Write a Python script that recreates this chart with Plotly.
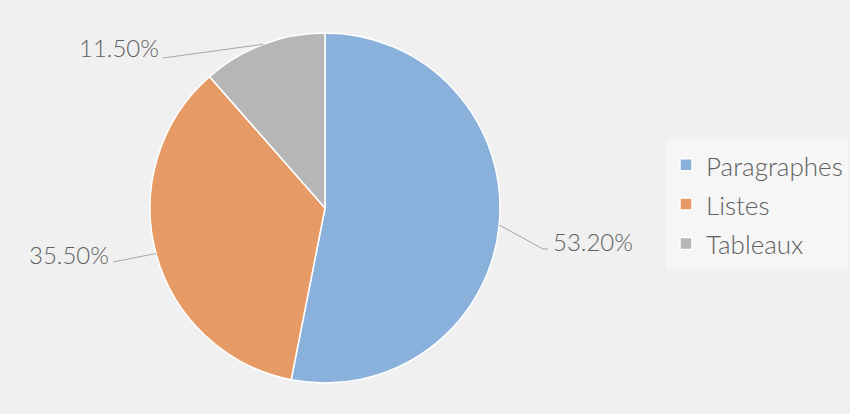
import numpy as np
import plotly.graph_objects as go

# ---- data ----
categories = ["Paragraphes", "Listes", "Tableaux"]
values = [53.2, 35.5, 11.5]
value_labels = ["53.20%", "35.50%", "11.50%"]
colors = ["#8ab0dc", "#e69b66", "#b6b6b6"]

W, H = 850, 414
cx, cy, R = 325, 208, 175  # pie geometry in px

def px(x):
    return x / W

def py(y):
    return 1 - y / H

legend_labels = ['<span style="font-size:26px">%s</span>' % c for c in categories]

fig = go.Figure(go.Pie(
    labels=legend_labels,
    values=values,
    sort=False,
    direction="clockwise",
    rotation=0,
    textinfo="none",
    hoverinfo="label+percent",
    marker=dict(colors=colors, line=dict(color="white", width=1.5)),
    domain=dict(x=[px(cx - R), px(cx + R)], y=[py(cy + R), py(cy - R)]),
))

label_layout = {
    "53.20%": dict(tx=551, ty=241, anchor="left", elbow=(543, 249), end=(548, 249)),
    "35.50%": dict(tx=111, ty=255, anchor="right", elbow=None, end=(113, 262)),
    "11.50%": dict(tx=161, ty=48, anchor="right", elbow=None, end=(163, 58)),
}

total = sum(values)
start = 0.0
shapes = []
annotations = []
for v, lab in zip(values, value_labels):
    mid = (start + v / 2) / total * 2 * np.pi
    start += v
    ax = cx + R * np.sin(mid)
    ay = cy - R * np.cos(mid)
    L = label_layout[lab]
    pts = [(ax, ay)]
    if L["elbow"]:
        pts.append(L["elbow"])
    pts.append(L["end"])
    path = "M " + " L ".join("%f,%f" % (px(a), py(b)) for a, b in pts)
    shapes.append(dict(type="path", path=path, xref="paper", yref="paper",
                       line=dict(color="#a6a6a6", width=1)))
    annotations.append(dict(text=lab, x=px(L["tx"]), y=py(L["ty"]), xref="paper", yref="paper",
                            xanchor=L["anchor"], yanchor="middle", showarrow=False,
                            font=dict(family="Lato", size=24, color="#606060", weight=300)))

fig.update_layout(
    width=W, height=H,
    margin=dict(l=0, r=0, t=0, b=0),
    paper_bgcolor="#f0f0f0",
    plot_bgcolor="#f0f0f0",
    shapes=shapes,
    annotations=annotations,
    showlegend=True,
    legend=dict(x=px(666), y=py(140), xanchor="left", yanchor="top",
                bgcolor="#f6f6f6", font=dict(family="Lato", size=28, color="#606060", weight=300),
                itemclick=False),
)

fig.write_html("out.html", config={"displayModeBar": False})

# remove default page margin so the figure fills the window
with open("out.html", encoding="utf-8") as f:
    html = f.read()
html = html.replace("<head>", "<head><style>html,body{margin:0;padding:0;background:#f0f0f0;overflow:hidden}</style>", 1)
with open("out.html", "w", encoding="utf-8") as f:
    f.write(html)
